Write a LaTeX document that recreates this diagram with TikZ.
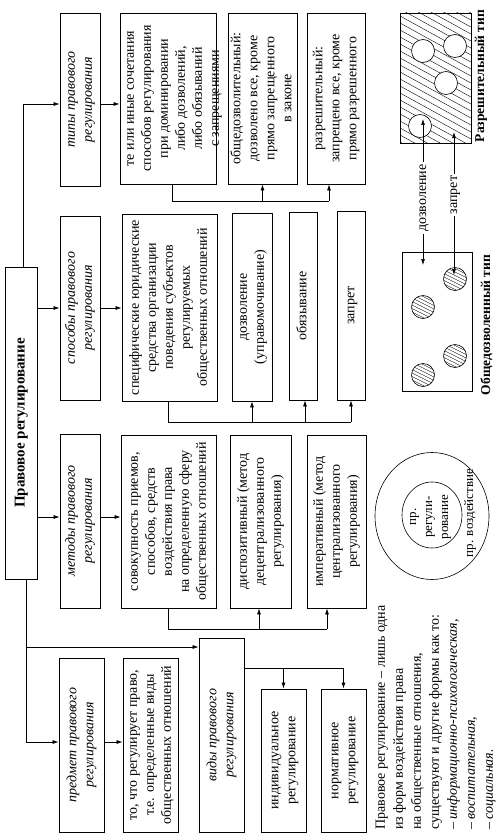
\documentclass[tikz,border=0pt]{standalone}
\usepackage{fontspec}
\setmainfont{Liberation Serif}
\usepackage{graphicx}
\usetikzlibrary{arrows.meta}
\newcommand{\rt}[2][c]{\rotatebox{90}{\begin{tabular}{@{}#1@{}}#2\end{tabular}}}
\newcommand{\hcirc}[2]{%
 \begin{scope}[shift={(#1,#2)}]
  \begin{scope}\clip (0,0) circle[radius=11.5pt];
   \foreach \k in {-35,-31.5,...,36} \draw[line width=0.35pt] (-14,\k-7) -- ++(28,14);
  \end{scope}
  \draw[line width=0.6pt] (0,0) circle[radius=11.5pt];
 \end{scope}}
\newcommand{\wcirc}[2]{\draw[line width=0.6pt, fill=white] (#1,#2) circle[radius=11.5pt];}
\begin{document}
\begin{tikzpicture}[x=1pt,y=-1pt,
  box/.style={draw, line width=0.8pt, inner sep=0pt, font=\fontsize{14}{17}\selectfont},
  cat/.style={box, font=\fontsize{14}{17}\selectfont\itshape},
  arr/.style={-{Latex[length=6pt,width=4pt]}, line width=0.7pt},
  ln/.style={line width=0.7pt},
  lbl/.style={inner sep=2pt, font=\fontsize{14}{16}\selectfont},
  blbl/.style={inner sep=0pt, font=\fontsize{13.5}{15}\selectfont\bfseries},
 ]
\useasboundingbox (0,0) rectangle (498,840);

% main
\node[box, font=\fontsize{15}{18}\selectfont\bfseries, minimum width=32pt, minimum height=312pt] (main) at (21,423) {\rt{Правовое регулирование}};

% categories
\node[cat, minimum width=40pt, minimum height=173pt] (tipy) at (80,99.5) {\rt{типы правового\\регулирования}};
\node[cat, minimum width=40pt, minimum height=184pt] (sposoby) at (80,308) {\rt{способы правового\\регулирования}};
\node[cat, minimum width=40pt, minimum height=174pt] (metody) at (80,521) {\rt{методы правового\\регулирования}};
\node[cat, minimum width=45pt, minimum height=174pt] (predmet) at (81.5,745) {\rt{предмет правового\\регулирования}};
\node[cat, minimum width=45pt, minimum height=194pt] (vidy) at (221.5,735) {\rt{виды правового\\регулирования}};

% types row
\node[box, minimum width=96pt, minimum height=171pt] (teili) at (168,98.5) {};
\node[font=\fontsize{14}{17}\selectfont, inner sep=0pt] (teilitxt) at (173,98.5) {\rt{те или иные сочетания\\способов регулирования\\при доминировании\\либо дозволений,\\либо обязываний\\с запрещениями}};
\node[box, minimum width=69pt, minimum height=171pt] (obshche) at (262.5,98.5) {\rt{общедозволительный:\\дозволено все, кроме\\прямо запрещенного\\в законе}};
\node[box, minimum width=58pt, minimum height=171pt] (razresh) at (336,98.5) {\rt{разрешительный:\\запрещено все, кроме\\прямо разрешенного}};

% sposoby row
\node[box, minimum width=95pt, minimum height=187pt] (specif) at (169.5,307.5) {\rt{специфические юридические\\средства организации\\поведения субъектов\\регулируемых\\общественных отношений}};
\node[box, minimum width=40pt, minimum height=188pt] (dozv) at (252,307) {\rt{дозволение\\(управомочивание)}};
\node[box, minimum width=28pt, minimum height=188pt] (obyaz) at (303,306) {\rt{обязывание}};
\node[box, minimum width=28pt, minimum height=189pt] (zapret) at (351,305.5) {\rt{запрет}};

% metody row
\node[box, minimum width=95pt, minimum height=173pt] (sovok) at (168.5,521.5) {\rt{совокупность приемов,\\способов, средств\\воздействия права\\на определенную сферу\\общественных отношений}};
\node[box, minimum width=61pt, minimum height=173pt] (dispoz) at (260.5,521.5) {\rt{диспозитивный (метод\\децентрализованного\\регулирования)}};
\node[box, minimum width=59pt, minimum height=173pt] (imper) at (336.5,521.5) {\rt{императивный (метод\\централизованного\\регулирования)}};

% predmet / vidy
\node[box, minimum width=55pt, minimum height=174pt] (tochto) at (150.5,745) {\rt{то, что регулирует право,\\т.е. определенные виды\\общественных отношений}};
\node[box, minimum width=45pt, minimum height=143pt] (indiv) at (283.5,760.5) {\rt{индивидуальное\\регулирование}};
\node[box, minimum width=45pt, minimum height=143pt] (normat) at (343.5,760.5) {\rt{нормативное\\регулирование}};

% trunk connectors
\coordinate (tt) at (23,104);
\coordinate (tb) at (26,742);
\coordinate (tv) at (26,647);
\draw[arr] (main.north -| tt) -- (tt) -- (tipy.west |- tt);
\draw[arr] (main.south -| tb) -- (tb) -- (predmet.west |- tb);
\draw[arr] (tv) -- (vidy.west |- tv);
\draw[arr] (main.east |- sposoby.west) -- (sposoby.west);
\coordinate (tm) at (0,517);
\draw[arr] (main.east |- tm) -- (metody.west |- tm);

\draw[arr] (tipy.east |- tt) -- (teili.west |- tt);
\draw[arr] (sposoby.east) -- (specif.west |- sposoby.east);
\draw[arr] (metody.east |- tm) -- (sovok.west |- tm);
\draw[arr] (predmet.east |- tb) -- (tochto.west |- tb);

% forks
\coordinate (f1) at (172,201);
\coordinate (r1) at ([xshift=-7pt]razresh.south);
\draw[ln] (teili.south -| f1) -- (f1) -- (f1 -| r1);
\draw[arr] (f1 -| obshche.south) -- (obshche.south);
\draw[arr] (f1 -| r1) -- (r1);

\coordinate (f2) at (168,422);
\coordinate (o2) at ([xshift=2pt]obyaz.south);
\draw[ln] (specif.south -| f2) -- (f2) -- (f2 -| zapret.south);
\draw[arr] (f2 -| dozv.south) -- (dozv.south);
\draw[arr] (f2 -| o2) -- (o2);
\draw[arr] (f2 -| zapret.south) -- (zapret.south);

\coordinate (f3) at (168,629);
\coordinate (i3) at ([xshift=-9.5pt]imper.south);
\coordinate (d3) at ([xshift=-1.5pt]dispoz.south);
\draw[ln] (sovok.south -| f3) -- (f3) -- (f3 -| i3);
\draw[arr] (f3 -| d3) -- (d3);
\draw[arr] (f3 -| i3) -- (i3);

\coordinate (f4) at (0,668);
\draw[ln] (vidy.east |- f4) -- (f4 -| normat.north);
\draw[arr] (f4 -| indiv.north) -- (indiv.north);
\draw[arr] (f4 -| normat.north) -- (normat.north);

% paragraph
\node[anchor=south west, inner sep=0pt, font=\fontsize{14}{18}\selectfont] (para) at (372,830) {\rt[l]{Правовое регулирование – лишь одна\\из форм воздействия права\\на общественные отношения,\\существуют и другие формы как то:\\– \textit{информационно-психологическая,}\\– \textit{воспитательная,}\\– \textit{социальная.}}};

% circles
\draw[line width=0.6pt] (432,516) ellipse[x radius=57pt, y radius=63.5pt];
\draw[line width=0.6pt] (432,515) ellipse[x radius=30pt, y radius=33pt];
\node[inner sep=0pt, font=\fontsize{13}{16}\selectfont] (preg) at (429,517) {\rt{пр.\\регули-\\рование}};
\node[inner sep=0pt, font=\fontsize{13}{15}\selectfont] (pvoz) at (470,513) {\rt{пр. воздействие}};

% Razreshitelny type
\begin{scope}
 \clip (400,13) rectangle (471,143);
 \foreach \k in {-60,-53,...,140} \draw[line width=0.4pt] (400,13+\k) -- ++(80,44);
\end{scope}
\draw[line width=0.8pt] (400,13) rectangle (471,143);
\wcirc{423}{51}
\wcirc{455}{46}
\wcirc{446}{83}
\wcirc{420}{126}
\node[blbl] (lrazr) at (481,76) {\rt{Разрешительный тип}};

% Obshchedozvolenny type
\draw[line width=0.8pt] (402,252) rectangle (472,391);
\hcirc{455}{279}
\hcirc{423}{307}
\hcirc{455}{356}
\hcirc{423}{375}
\node[blbl] (lobsh) at (487,325) {\rt{Общедозволенный тип}};

% arrows dozvolenie / zapret
\node[lbl] (ldoz) at (423,198) {\rt{дозволение}};
\node[lbl] (lzap) at (454,195) {\rt{запрет}};
\coordinate (dozTop) at (423,119);
\coordinate (dozBot) at (423,265);
\coordinate (zapTop) at (454,132);
\coordinate (zapBot) at (454,275);
\draw[arr] (ldoz.north) -- (dozTop);
\draw[arr] (ldoz.south) -- (dozBot);
\draw[arr] (lzap.north) -- (zapTop);
\draw[arr] (lzap.south) -- (zapBot);
\end{tikzpicture}
\end{document}
